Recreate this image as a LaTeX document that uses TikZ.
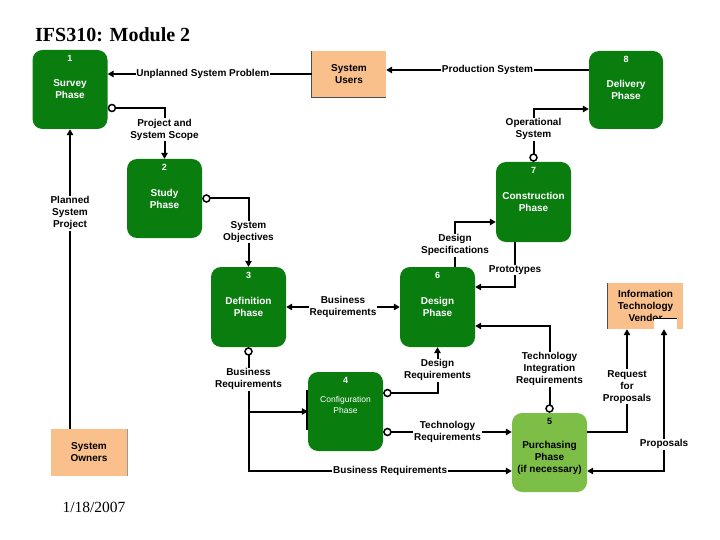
\documentclass[tikz,border=0pt]{standalone}
\usepackage{fontspec}
\setmainfont{Liberation Sans}
\newfontfamily\seriffam{Liberation Serif}
\usetikzlibrary{arrows.meta}
\definecolor{dkgreen}{RGB}{10,125,15}
\definecolor{ltgreen}{RGB}{125,190,70}
\definecolor{peach}{RGB}{250,192,140}
\begin{document}
\begin{tikzpicture}[x=1pt,y=-1pt,
  phase/.style={fill=dkgreen, rounded corners=10pt, minimum width=75pt, minimum height=79pt,
    text=white, font=\bfseries\fontsize{10}{12}\selectfont, align=center, inner sep=0pt},
  numlbl/.style={anchor=north, yshift=-5pt, inner sep=0pt, font=\bfseries\fontsize{9}{10}\selectfont, text=white},
  num/.style={label={[numlbl]north:#1}},
  ent/.style={fill=peach, minimum width=75pt, minimum height=46pt, inner sep=0pt,
    font=\bfseries\fontsize{10}{12}\selectfont, align=center},
  lbl/.style={fill=white, inner sep=0.8pt, align=center, font=\bfseries\fontsize{10}{12}\selectfont},
  flow/.style={line width=2pt, -{Triangle[length=6pt,width=6.5pt]}},
  dflow/.style={line width=2pt, {Triangle[length=6pt,width=6.5pt]}-{Triangle[length=6pt,width=6.5pt]}},
  cflow/.style={line width=2pt, {Circle[length=8.5pt,fill=white,line width=1.5pt]}-{Triangle[length=6pt,width=6.5pt]}}
]
\useasboundingbox (0,0) rectangle (720,540);
\fill[white] (0,0) rectangle (720,540);

% title and date
\node[anchor=base west, inner sep=0pt, font=\seriffam\bfseries\fontsize{20}{24}\selectfont] (title) at (35,42) {IFS310: Module 2};
\node[anchor=base, inner sep=0pt, font=\seriffam\fontsize{15.5}{18}\selectfont] (date) at (94,512) {1/18/2007};

% phases
\node[phase, num=1] (survey) at (70,89.5) {Survey\\Phase};
\node[phase, num=2] (study) at (164.5,198.5) {Study\\Phase};
\node[phase, num=3, minimum height=80pt] (definition) at (248.5,307) {Definition\\Phase};
\node[phase, num=6, minimum height=80pt] (design) at (437.5,307) {Design\\Phase};
\node[phase, num=4, label={[anchor=center, yshift=7pt, align=center, inner sep=0pt, text=white, font=\fontsize{8.5}{11}\selectfont]center:Configuration\\Phase}] (config) at (345.5,411.5) {};
\node[phase, fill=ltgreen, label={[numlbl, text=black]north:5},
  label={[anchor=center, yshift=-5.5pt, align=center, inner sep=0pt, text=black, font=\bfseries\fontsize{10}{12}\selectfont]center:Purchasing\\Phase\\(if necessary)}] (purch) at (549.5,452.5) {};
\node[phase, num=7, minimum height=80pt] (constr) at (533.5,202) {Construction\\Phase};
\node[phase, num=8, minimum width=74pt, minimum height=78pt] (delivery) at (626,90) {Delivery\\Phase};

% external entities
\node[ent, minimum width=74pt] (users) at (349,74) {System\\Users};
\node[ent] (vendor) at (645.5,306) {Information\\Technology\\Vendor};
\node[ent, minimum width=76pt, minimum height=47pt] (owners) at (89,452.5) {System\\Owners};
\draw[black!70, line width=0.7pt] (users.north west) -- (users.south west) -- (users.south east);
\draw[black!70, line width=0.7pt] (vendor.north west) -- (vendor.south west);
\draw[black!40, line width=0.7pt] (owners.north east) -- (owners.south east);
\fill[white] (654,318.5) rectangle (677,330);
\draw[line width=1pt] (654,318.5) -- (677,318.5);

% flows
\draw[flow] (users.west) -- (users.west -| survey.east) node[lbl,pos=0.534]{Unplanned System Problem};
\draw[flow] ([yshift=20pt]delivery.west) -- ([yshift=20pt]delivery.west -| users.east) node[lbl,midway]{Production System};
\draw[cflow] ([yshift=-18.5pt]survey.east) -| (study.north) node[lbl,pos=0.715]{Project and\\System Scope};
\draw[cflow] (study.east) -| (definition.north) node[lbl,pos=0.745]{System\\Objectives};
\draw[flow] (owners.north -| survey.south) -- (survey.south) node[lbl,pos=0.72]{Planned\\System\\Project};
\draw[dflow] (definition.east) -- (design.west) node[lbl,midway]{Business\\Requirements};
\draw[cflow] (definition.south) |- ([yshift=-18.5pt]purch.west) node[lbl,pos=0.129]{Business\\Requirements} node[lbl,pos=0.769]{Business Requirements};
\draw[flow] (definition.south |- config.west) -- (config.west);
\draw[line width=1.5pt] ([xshift=-1pt,yshift=21.5pt]config.west) -- ([xshift=-1pt,yshift=-18.5pt]config.west);
\draw[cflow] ([yshift=18.5pt]config.east) -| (design.south) node[lbl,pos=0.75]{Design\\Requirements};
\draw[cflow] ([yshift=-20.5pt]config.east) -- ([yshift=-20.5pt]config.east -| purch.west) node[lbl,midway]{Technology\\Requirements};
\draw[flow] ([xshift=17.5pt]design.north) |- ([yshift=-20pt]constr.west) node[lbl,pos=0.24]{Design\\Specifications};
\draw[flow] ([xshift=-18.5pt]constr.south) |- ([yshift=20pt]design.east) node[lbl,pos=0.31]{Prototypes};
\draw[cflow] (purch.north) |- ([yshift=-19pt]design.east) node[lbl,pos=0.25]{Technology\\Integration\\Requirements};
\draw[cflow] (constr.north) |- ([yshift=-19pt]delivery.west) node[lbl,pos=0.31]{Operational\\System};
\draw[flow] ([yshift=20.5pt]purch.east) -| ([xshift=-18.5pt]vendor.south) node[lbl,pos=0.72]{Request\\for\\Proposals};
\draw[dflow] ([xshift=18.5pt]vendor.south) |- ([yshift=-18.5pt]purch.east) node[lbl,pos=0.405]{Proposals};
\end{tikzpicture}
\end{document}
